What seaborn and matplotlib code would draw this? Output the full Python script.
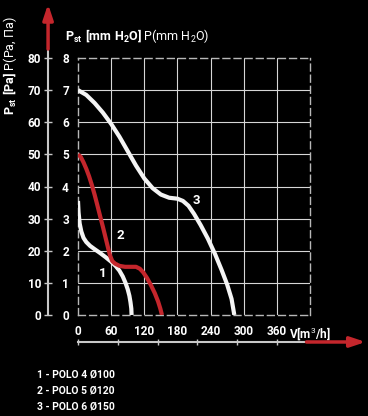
import matplotlib
matplotlib.use("Agg")
import numpy as np
import pandas as pd
import matplotlib.pyplot as plt
import seaborn as sns

# Fan curves: V [m3/h] and P [mm H2O]
flow_1 = [0, 1, 3, 6, 10, 15, 22, 30, 40, 50, 60, 68, 75, 81, 86, 90, 93, 95, 96.5, 97]
press_1 = [3.55, 3.2, 2.85, 2.6, 2.4, 2.27, 2.15, 2.05, 1.93, 1.8, 1.66, 1.53, 1.38, 1.2, 1.0, 0.8, 0.6, 0.4, 0.2, 0.0]

flow_2 = [0, 5, 10, 15, 20, 25, 30, 35, 40, 45, 50, 55, 58, 62, 67, 75, 85, 95, 105, 112, 118, 125, 132, 139, 145, 149, 152]
press_2 = [5.0, 4.92, 4.75, 4.55, 4.32, 4.05, 3.75, 3.42, 3.08, 2.75, 2.4, 2.05, 1.85, 1.68, 1.6, 1.53, 1.5, 1.5, 1.5, 1.44, 1.33, 1.15, 0.93, 0.68, 0.42, 0.2, 0.0]

flow_3 = [0, 15, 30, 45, 60, 75, 90, 105, 120, 135, 150, 165, 180, 190, 200, 210, 222, 235, 248, 260, 270, 278, 283]
press_3 = [7.0, 6.85, 6.6, 6.3, 5.95, 5.55, 5.1, 4.65, 4.25, 3.95, 3.75, 3.65, 3.62, 3.55, 3.4, 3.15, 2.8, 2.38, 1.9, 1.4, 0.95, 0.5, 0.0]

models = ["1 - POLO 4 Ø100", "2 - POLO 5 Ø120", "3 - POLO 6 Ø150"]
curve_ids = ["1", "2", "3"]
label_pos = [(44, 1.28), (76, 2.49), (214, 3.56)]

x_ticks = [0, 60, 120, 180, 240, 300, 360, 420]
x_labels = ["0", "60", "120", "180", "240", "300", "360", "V[m$^3$/h]"]
y_ticks = [0, 1, 2, 3, 4, 5, 6, 7, 8]
pa_ticks = [0, 10, 20, 30, 40, 50, 60, 70, 80]

RED = "#c4262c"
WHITE = "#f4f4f4"
GRAY = "#c8c8c8"

df = pd.concat([
    pd.DataFrame({"V": flow_1, "P": press_1, "model": models[0]}),
    pd.DataFrame({"V": flow_2, "P": press_2, "model": models[1]}),
    pd.DataFrame({"V": flow_3, "P": press_3, "model": models[2]}),
])

sns.set_style("dark", {"axes.facecolor": "black", "figure.facecolor": "black"})
plt.rcParams["font.family"] = ["Roboto", "DejaVu Sans"]
plt.rcParams["mathtext.fontset"] = "custom"
plt.rcParams["mathtext.rm"] = "Roboto"
plt.rcParams["mathtext.bf"] = "Roboto:bold"

fig = plt.figure(figsize=(3.68, 4.16), dpi=100, facecolor="black")
ax = fig.add_axes([78 / 368, 1 - 315 / 416, 232 / 368, 257 / 416])
ax.set_facecolor("black")

sns.lineplot(data=df, x="V", y="P", hue="model", sort=False, estimator=None,
             palette={models[0]: WHITE, models[1]: RED, models[2]: WHITE},
             lw=3.0, legend=False, ax=ax, zorder=5)
for line in ax.get_lines():
    line.set_solid_joinstyle("round")
    line.set_solid_capstyle("butt")

ax.set_xlim(0, 420)
ax.set_ylim(0, 8)
ax.set_xlabel("")
ax.set_ylabel("")
ax.set_xticks(x_ticks)
ax.set_xticklabels(x_labels)
ax.set_yticks(y_ticks)
ax.tick_params(axis="x", length=0, pad=7, labelcolor="white", labelsize=8.5)
ax.tick_params(axis="y", length=5, width=1, color=GRAY, pad=1.5,
               labelcolor="white", labelsize=8.5)
for lab in ax.get_xticklabels() + ax.get_yticklabels():
    lab.set_fontweight("bold")

ax.grid(True, color="#d6d6d6", lw=0.8)
for t in [ax.xaxis.get_major_ticks()[0], ax.xaxis.get_major_ticks()[-1],
          ax.yaxis.get_major_ticks()[0], ax.yaxis.get_major_ticks()[-1]]:
    t.gridline.set_visible(False)
for s in ax.spines.values():
    s.set_visible(True)
    s.set_color("#b8b8b8")
    s.set_linewidth(1)
    s.set_linestyle((0, (5, 3)))

for cid, (lx, ly) in zip(curve_ids, label_pos):
    ax.text(lx, ly, cid, color="white", fontsize=9.5, fontweight="bold",
            ha="center", va="center")

# Pa axis on the left
sec = ax.secondary_yaxis(-0.129, functions=(lambda p: p * 10, lambda p: p / 10))
sec.set_yticks(pa_ticks)
sec.tick_params(direction="inout", length=6, width=1, color=GRAY, pad=2,
                labelcolor="white", labelsize=8.5)
for lab in sec.get_yticklabels():
    lab.set_fontweight("bold")
for s in sec.spines.values():
    s.set_color(GRAY)
    s.set_linewidth(1.5)

ax.plot([-0.129, -0.129], [1.0, 1.04], transform=ax.transAxes, clip_on=False,
        color=GRAY, lw=1.5)
ax.annotate("", xy=(-0.129, 1.21), xytext=(-0.129, 1.035), xycoords="axes fraction",
            arrowprops=dict(arrowstyle="-|>,head_width=0.3,head_length=0.9",
                            color=RED, lw=2.5, shrinkA=0, shrinkB=0))

# flow axis under the plot
secx = ax.secondary_xaxis(-0.105)
secx.set_xticks([0, 72, 144, 216, 288, 360])
secx.set_xticklabels([])
secx.tick_params(direction="inout", length=5, width=1, color=GRAY)
for s in secx.spines.values():
    s.set_color(GRAY)
    s.set_linewidth(1.5)
ax.annotate("", xy=(1.24, -0.105), xytext=(0.985, -0.105), xycoords="axes fraction",
            arrowprops=dict(arrowstyle="-|>,head_width=0.3,head_length=0.9",
                            color=RED, lw=2.5, shrinkA=0, shrinkB=0))

fig.text(65 / 368, 1 - 36 / 416,
         r"$\mathbf{P}_{\mathbf{st}}\ \mathbf{[mm\ H_{2}O]}$ P(mm H$_{2}$O)",
         color="white", fontsize=9, va="center", ha="left")
fig.text(10 / 368, 1 - 66 / 416,
         r"$\mathbf{P}_{\mathbf{st}}\ \mathbf{[Pa]}$ P(Pa, Па)",
         color="white", fontsize=9, va="center", ha="center", rotation=90)

for i, m in enumerate(models):
    fig.text(37 / 368, 1 - (375 + 16 * i) / 416, m, color="white",
             fontsize=7.5, fontweight="bold", va="center", ha="left")

fig.savefig("out.png", dpi=100, facecolor="black")
